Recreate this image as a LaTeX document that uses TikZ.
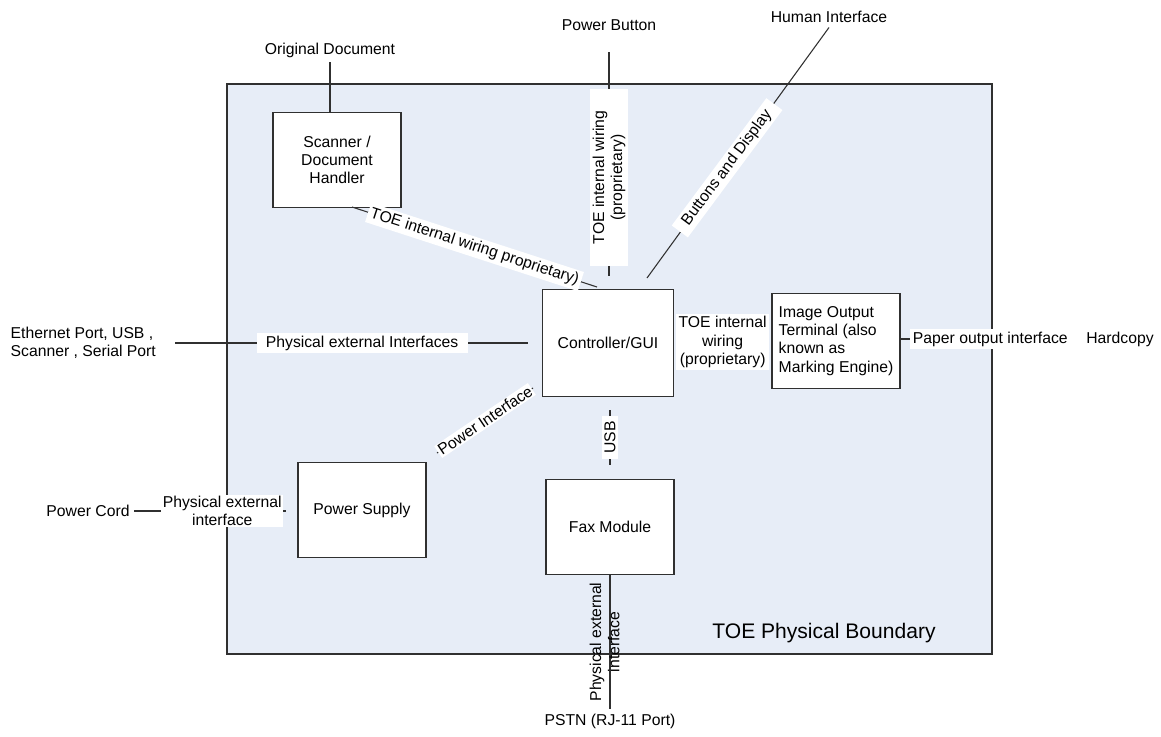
\documentclass[tikz,border=0pt]{standalone}
\usepackage{fontspec}
\setmainfont{Liberation Sans}
\definecolor{bndfill}{HTML}{E7EDF7}
\definecolor{wire}{HTML}{303030}
\tikzset{
	box/.style={draw=wire, line width=1pt, fill=white, minimum width=96pt, minimum height=71pt, align=center, inner sep=2pt},
	lbl/.style={fill=white, inner sep=2pt, align=center},
	wireline/.style={draw=wire, line width=0.8pt}
}
\begin{document}
\begin{tikzpicture}[x=0.75pt, y=-0.75pt, font=\fontsize{11.8}{13.6}\selectfont]
	\useasboundingbox [fill=white] (0, 0) rectangle (1161, 736);
	% boundary
	\draw [draw=wire, line width=0.8pt, fill=bndfill] (227, 84) rectangle (992, 654);
	\node [font=\fontsize{15.8}{18}\selectfont] (bnd) at (824, 633) {TOE Physical Boundary};
	% blocks
	\node [box] (scan) at (337, 160) {Scanner /\\Document\\Handler};
	\node [box, minimum width=98pt, minimum height=80pt] (ctrl) at (608, 343) {Controller/GUI};
	\node [box, align=left] (iot) at (836, 341) {Image Output\\Terminal (also\\known as\\Marking Engine)};
	\node [box] (psu) at (362, 510) {Power Supply};
	\node [box] (fax) at (610, 527) {Fax Module};
	% outside things
	\node (orig) at (330, 50) {Original Document};
	\node (pbtn) at (609, 25) {Power Button};
	\node (human) at (829, 17) {Human Interface};
	\node [align=left, anchor=west] (eth) at (6, 343) {Ethernet Port, USB ,\\Scanner , Serial Port};
	\node (cord) at (88, 511) {Power Cord};
	\node (hard) at (1120, 339) {Hardcopy};
	\node (pstn) at (610, 721) {PSTN (RJ-11 Port)};
	% free ends
	\coordinate (pb-top) at (609, 52);
	\coordinate (pb-bot) at (609, 276);
	\coordinate (hi-end) at (647, 278);
	\coordinate (sc-a) at (352, 207);
	\coordinate (sc-b) at (597, 287);
	\coordinate (eth-a) at (175, 343);
	\coordinate (eth-b) at (528, 343);
	\coordinate (pw-a) at (437, 453);
	\coordinate (pw-b) at (533, 388);
	\coordinate (usb-a) at (610, 410);
	\coordinate (usb-b) at (610, 465);
	\coordinate (cord-b) at (286, 511);
	% wiring
	\draw [wireline] (orig.south) -- (orig.south |- scan.north);
	\draw [wireline] (pb-top) -- (pb-bot)
		node [lbl, pos=0.56, rotate=90, inner xsep=16pt] {TOE internal wiring\\(proprietary)};
	\draw [wireline] (human.south) -- (hi-end)
		node [lbl, pos=0.56, rotate=53.4, inner xsep=7pt] {Buttons and Display};
	\draw [wireline] (sc-a) -- (sc-b)
		node [lbl, pos=0.5, rotate=-18] {TOE internal wiring proprietary)};
	\draw [wireline] (eth-a) -- (eth-b)
		node [lbl, pos=0.53, inner xsep=7pt] {Physical external Interfaces};
	\path (ctrl.east) -- (iot.west)
		node [lbl, midway] (ctrl-iot) {TOE internal\\wiring\\(proprietary)};
	\node [lbl, anchor=west] (paper) at (910, 339) {Paper output interface};
	\draw [wireline] (iot.east |- paper.west) -- (paper.west);
	\draw [wireline] (pw-a) -- (pw-b)
		node [lbl, midway, rotate=34, inner sep=1pt] {Power Interface};
	\draw [wireline] (usb-a) -- (usb-b)
		node [lbl, midway, rotate=90, inner xsep=4pt] {USB};
	\draw [wireline] (fax.south) -- (pstn.north)
		node [midway, xshift=-4pt, rotate=90, align=center, inner sep=0pt] {Physical external\\interface};
	\draw [wireline] (cord.east) -- (cord-b)
		node [lbl, pos=0.58, inner sep=1pt] {Physical external\\interface};
\end{tikzpicture}
\end{document}
